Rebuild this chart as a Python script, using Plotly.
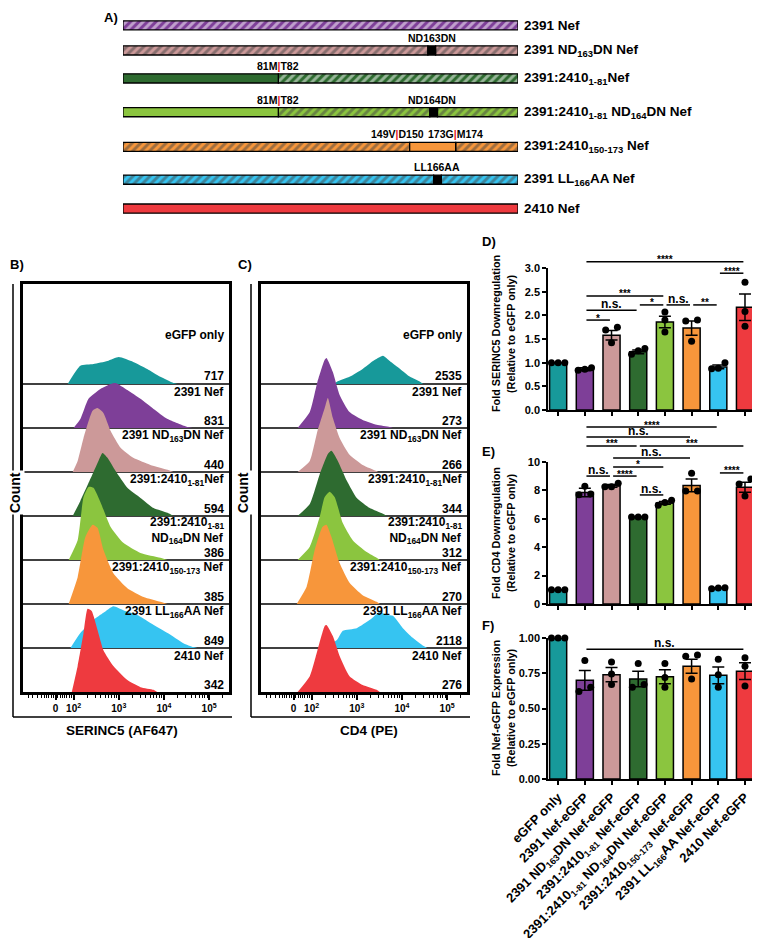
import plotly.graph_objects as go
import numpy as np

W, H = 760, 938
OFF = 8                      # the page body adds an 8 px margin round the figure
FW, FH = W - OFF, H - OFF
FONT = "Liberation Sans, Arial, sans-serif"

def px(x):  # window pixel -> paper x
    return (x - OFF) / FW

def py(y):  # window pixel (from top) -> paper y
    return 1 - (y - OFF) / FH

TEAL, PURPLE, PINK, DKGREEN = "#17999a", "#7e3f98", "#cc9999", "#2e6b30"
LTGREEN, ORANGE, BLUE, RED = "#8bc53f", "#f7963b", "#36c4f1", "#ee3a3f"
colors = [TEAL, PURPLE, PINK, DKGREEN, LTGREEN, ORANGE, BLUE, RED]

#----------------------------------------------------------------------------------------------
# A) construct schematic (residue numbers)
nef_len = 206
a_names = ["2391 Nef", "2391 ND<sub>163</sub>DN Nef", "2391:2410<sub>1-81</sub>Nef",
           "2391:2410<sub>1-81</sub> ND<sub>164</sub>DN Nef", "2391:2410<sub>150-173</sub> Nef",
           "2391 LL<sub>166</sub>AA Nef", "2410 Nef"]
a_colors = [PURPLE, PINK, DKGREEN, LTGREEN, ORANGE, BLUE, RED]
a_segments = [
    [(0, 206, "hatch")],
    [(0, 159, "hatch"), (159, 163, "mut"), (163, 206, "hatch")],
    [(0, 81, "solid"), (81, 206, "hatch")],
    [(0, 81, "solid"), (81, 160, "hatch"), (160, 164, "mut"), (164, 206, "hatch")],
    [(0, 149.5, "hatch"), (149.5, 173.5, "solid"), (173.5, 206, "hatch")],
    [(0, 162, "hatch"), (162, 166, "mut"), (166, 206, "hatch")],
    [(0, 206, "solid")],
]
RB = "<span style='color:#e8141b'>|</span>"
a_sites = [
    [],
    [(161, "ND163DN")],
    [(81, "81M" + RB + "T82")],
    [(81, "81M" + RB + "T82"), (161, "ND164DN")],
    [(149.5, "149V" + RB + "D150"), (173.5, "173G" + RB + "M174")],
    [(164, "LL166AA")],
    [],
]
a_rows = [18, 44, 73, 108, 144, 178, 208]  # layout: row centres in px

#----------------------------------------------------------------------------------------------
# B) / C) histograms: x = log10 fluorescence (display scale), y = count (fraction of a row)
hist_names = ["eGFP only", "2391 Nef", "2391 ND<sub>163</sub>DN Nef", "2391:2410<sub>1-81</sub>Nef",
              "2391:2410<sub>1-81</sub><br>ND<sub>164</sub>DN Nef", "2391:2410<sub>150-173</sub> Nef",
              "2391 LL<sub>166</sub>AA Nef", "2410 Nef"]
ser_counts = [717, 831, 440, 594, 386, 385, 849, 342]
cd4_counts = [2535, 273, 266, 344, 312, 270, 2118, 276]

ser_x = [
    [1.87, 2.15, 2.44, 2.75, 3.00, 3.32, 3.63, 3.92, 4.21, 4.30],
    [2.00, 2.15, 2.33, 2.60, 2.82, 2.93, 3.19, 3.48, 3.77, 4.08, 4.52, 4.63],
    [1.98, 2.09, 2.22, 2.42, 2.53, 2.66, 2.82, 3.04, 3.32, 3.70, 4.08, 4.21],
    [1.98, 2.15, 2.38, 2.55, 2.64, 2.75, 2.93, 3.19, 3.48, 3.77, 4.08, 4.21],
    [1.89, 2.09, 2.22, 2.33, 2.44, 2.60, 2.82, 3.10, 3.48, 3.92, 4.08],
    [1.89, 2.09, 2.26, 2.42, 2.53, 2.66, 2.88, 3.19, 3.55, 3.92, 4.08],
    [1.93, 2.15, 2.44, 2.66, 2.88, 3.10, 3.41, 3.70, 4.08, 4.43, 4.65, 4.74],
    [1.96, 2.09, 2.22, 2.31, 2.40, 2.53, 2.66, 2.88, 3.19, 3.48, 3.77, 3.85],
]
ser_h = [
    [0, 0.41, 0.45, 0.52, 0.61, 0.50, 0.34, 0.16, 0.02, 0],
    [0, 0.20, 0.66, 0.89, 1.00, 1.02, 0.86, 0.66, 0.43, 0.20, 0.02, 0],
    [0, 0.25, 0.77, 1.39, 1.45, 1.34, 0.93, 0.55, 0.32, 0.16, 0.05, 0],
    [0, 0.34, 0.86, 1.25, 1.43, 1.32, 1.02, 0.64, 0.41, 0.18, 0.07, 0],
    [0, 0.45, 1.43, 1.66, 1.64, 1.30, 0.75, 0.39, 0.16, 0.05, 0],
    [0, 0.61, 1.52, 1.80, 1.73, 1.23, 0.70, 0.36, 0.16, 0.05, 0],
    [0, 0.34, 0.64, 0.80, 0.95, 0.86, 0.75, 0.57, 0.34, 0.11, 0.02, 0],
    [0, 0.59, 1.34, 1.89, 1.84, 1.41, 0.95, 0.59, 0.27, 0.11, 0.05, 0],
]
cd4_x = [
    [2.50, 2.56, 2.84, 3.13, 3.36, 3.58, 3.73, 3.96, 4.18, 4.40, 4.47],
    [1.69, 1.96, 2.13, 2.29, 2.33, 2.47, 2.62, 2.84, 3.13, 3.44, 3.73, 3.80],
    [1.69, 1.96, 2.13, 2.29, 2.36, 2.47, 2.62, 2.84, 3.13, 3.44, 3.47],
    [1.69, 1.96, 2.18, 2.36, 2.44, 2.58, 2.78, 3.00, 3.29, 3.58, 3.67],
    [1.69, 1.96, 2.18, 2.29, 2.40, 2.51, 2.69, 2.91, 3.22, 3.44, 3.51],
    [1.67, 1.89, 2.07, 2.24, 2.33, 2.44, 2.62, 2.84, 3.13, 3.44, 3.51],
    [2.20, 2.56, 2.69, 3.00, 3.29, 3.51, 3.67, 3.80, 4.02, 4.24, 4.47, 4.56],
    [1.69, 1.96, 2.13, 2.29, 2.33, 2.47, 2.62, 2.84, 3.13, 3.44, 3.51],
]
cd4_h = [
    [0, 0.05, 0.16, 0.34, 0.52, 0.64, 0.52, 0.34, 0.16, 0.05, 0],
    [0, 0.36, 1.05, 1.55, 1.59, 1.27, 0.75, 0.36, 0.18, 0.07, 0.02, 0],
    [0, 0.25, 0.93, 1.45, 1.68, 1.23, 0.77, 0.39, 0.16, 0.02, 0],
    [0, 0.27, 0.95, 1.41, 1.48, 1.25, 0.80, 0.41, 0.18, 0.05, 0],
    [0, 0.30, 0.98, 1.43, 1.55, 1.43, 0.84, 0.45, 0.18, 0.05, 0],
    [0, 0.39, 1.23, 1.75, 1.80, 1.52, 0.93, 0.48, 0.20, 0.05, 0],
    [0, 0.18, 0.39, 0.45, 0.64, 0.82, 0.75, 0.73, 0.45, 0.23, 0.05, 0],
    [0, 0.36, 0.95, 1.50, 1.52, 1.27, 0.82, 0.36, 0.16, 0.05, 0],
]

#----------------------------------------------------------------------------------------------
# D) E) F) bar charts
groups = ["eGFP only", "2391 Nef-eGFP", "2391 ND<sub>163</sub>DN Nef-eGFP",
          "2391:2410<sub>1-81</sub> Nef-eGFP", "2391:2410<sub>1-81</sub> ND<sub>164</sub>DN Nef-eGFP",
          "2391:2410<sub>150-173</sub> Nef-eGFP", "2391 LL<sub>166</sub>AA Nef-eGFP", "2410 Nef-eGFP"]

ser_mean = [1.0, 0.86, 1.58, 1.23, 1.86, 1.73, 0.91, 2.17]
ser_sem = [0.0, 0.03, 0.10, 0.04, 0.12, 0.15, 0.04, 0.28]
ser_pts = [[1.0, 1.0, 1.0], [0.84, 0.89, 0.86], [1.75, 1.69, 1.42], [1.30, 1.25, 1.18],
           [2.07, 1.90, 1.65], [1.90, 1.88, 1.45], [1.00, 0.88, 0.87], [2.70, 2.08, 1.77]]
ser_sig = [("****", 1, 7, 3.13), ("****", 6, 7, 2.89), ("***", 1, 4, 2.41), ("n.s.", 1, 3, 2.11),
           ("*", 3, 4, 2.22), ("n.s.", 4, 5, 2.22), ("**", 5, 6, 2.22), ("*", 1, 2, 1.90)]

cd4_mean = [1.0, 7.85, 8.32, 6.12, 7.12, 8.35, 1.12, 8.22]
cd4_sem = [0.0, 0.30, 0.10, 0.02, 0.10, 0.45, 0.03, 0.35]
cd4_pts = [[1.0, 1.0, 1.0], [8.30, 7.75, 7.70], [8.50, 8.25, 8.25], [6.12, 6.12, 6.12],
           [7.30, 7.15, 6.95], [9.20, 7.95, 7.95], [1.08, 1.12, 1.15], [8.80, 8.45, 7.60]]
cd4_sig = [("****", 1, 6, 12.46), ("n.s.", 1, 5, 11.76), ("***", 1, 3, 11.13), ("***", 3, 7, 11.13),
           ("n.s.", 2, 5, 10.28), ("*", 2, 4, 9.65), ("n.s.", 1, 2, 9.01), ("****", 2, 3, 9.01),
           ("****", 6, 7, 9.23), ("n.s.", 3, 4, 7.68)]

exp_mean = [1.0, 0.70, 0.74, 0.71, 0.725, 0.80, 0.735, 0.765]
exp_sem = [0.0, 0.07, 0.05, 0.055, 0.05, 0.05, 0.06, 0.06]
exp_pts = [[1.0, 1.0, 1.0], [0.84, 0.65, 0.62], [0.83, 0.745, 0.67], [0.82, 0.67, 0.65],
           [0.82, 0.72, 0.65], [0.88, 0.87, 0.71], [0.85, 0.74, 0.65], [0.86, 0.80, 0.66]]
exp_sig = [("n.s.", 1, 7, 0.92)]

#----------------------------------------------------------------------------------------------
fig = go.Figure()
ann = []
shapes = []

def text(x, y, s, size, xref="paper", yref="paper", **kw):
    d = dict(x=x, y=y, text=s, xref=xref, yref=yref, showarrow=False, font=dict(size=size),
             xanchor="center", yanchor="middle")
    d.update(kw)
    ann.append(d)

# ---- A
kinds = {"hatch": dict(y=[], x=[], base=[], c=[]), "solid": dict(y=[], x=[], base=[], c=[]),
         "mut": dict(y=[], x=[], base=[], c=[])}
for i, segs in enumerate(a_segments):
    for s, e, k in segs:
        kinds[k]["y"].append(a_rows[i])
        kinds[k]["base"].append(s)
        kinds[k]["x"].append(e - s)
        kinds[k]["c"].append("black" if k == "mut" else a_colors[i])
for k, d in kinds.items():
    marker = dict(color=d["c"], line=dict(color="black", width=1.3))
    if k == "hatch":
        marker["pattern"] = dict(shape="/", fgcolor="white", size=6, solidity=0.5, fillmode="overlay")
    fig.add_trace(go.Bar(orientation="h", y=d["y"], x=d["x"], base=d["base"], width=9.5,
                         marker=marker, xaxis="x", yaxis="y", hoverinfo="skip"))
for i, name in enumerate(a_names):
    text(nef_len, a_rows[i], name, 13.5, xref="x", yref="y", xanchor="left", xshift=4)
    for pos, lab in a_sites[i]:
        shift = -12 if lab.startswith("149V") else 0
        text(pos, a_rows[i] - 13, lab, 10.5, xref="x", yref="y", xshift=shift)
text(px(111), py(8), "A)", 13, yanchor="top")

# ---- B, C histograms
minor_vals = [1.0, 1.1, 1.2, 1.3, 1.35, 1.4, 1.45, 1.5, 1.55, 1.65, 1.7, 1.75, 1.8, 1.85, 1.9, 1.95]
minor_vals += [d + np.log10(k) for d in (2, 3, 4) for k in range(2, 10)] + [5 + np.log10(2)]

for (xs_all, hs_all, counts, xa, ya) in [(ser_x, ser_h, ser_counts, "x2", "y2"),
                                         (cd4_x, cd4_h, cd4_counts, "x3", "y3")]:
    for r in range(8):
        b = 7 - r
        if r < 7:
            fig.add_trace(go.Scatter(x=[0.8, 5.6], y=[b, b], mode="lines",
                                     line=dict(color="black", width=1.5), xaxis=xa, yaxis=ya,
                                     hoverinfo="skip"))
        fig.add_trace(go.Scatter(x=xs_all[r], y=[b + h for h in hs_all[r]], mode="lines",
                                 fill="toself", fillcolor=colors[r], line=dict(width=0, shape="spline", smoothing=0.5),
                                 xaxis=xa, yaxis=ya, hoverinfo="skip"))
        if r == 0:
            ny, cy = b + 1.11, b + 0.18
        elif r == 4:
            ny, cy = b + 0.68, b + 0.16
        else:
            ny, cy = b + 0.82, b + 0.16
        text(1, ny, hist_names[r], 12, xref=xa + " domain", yref=ya, xanchor="right", xshift=-3)
        text(1, cy, str(counts[r]), 12, xref=xa + " domain", yref=ya, xanchor="right", xshift=-3)

for (lx, rx, cx, title, tx, lab, labx) in [(13, 232, 15, "SERINC5 (AF647)", 122, "B)", 8),
                                           (251, 470, 243, "CD4 (PE)", 369, "C)", 236)]:
    shapes.append(dict(type="line", xref="paper", yref="paper", x0=px(lx), x1=px(lx),
                       y0=py(284), y1=py(717), line=dict(color="black", width=1.5)))
    shapes.append(dict(type="line", xref="paper", yref="paper", x0=px(lx), x1=px(rx),
                       y0=py(717), y1=py(717), line=dict(color="black", width=1.5)))
    text(px(cx), py(493), "Count", 14, textangle=-90, bgcolor="white")
    text(px(tx), py(730), title, 13.5)
    text(px(labx), py(264), lab, 13, xanchor="left")

# ---- D, E, F bar charts
def spread(vals, thresh):
    order = sorted(range(len(vals)), key=lambda k: vals[k])
    clusters = [[order[0]]]
    for k in order[1:]:
        if vals[k] - vals[clusters[-1][-1]] < thresh:
            clusters[-1].append(k)
        else:
            clusters.append([k])
    offs = [0.0] * len(vals)
    pats = {1: [0.0], 2: [-0.22, 0.22], 3: [-0.25, 0.0, 0.25]}
    for cl in clusters:
        for k, o in zip(cl, pats[len(cl)]):
            offs[k] = o
    return offs

bar_panels = [
    (ser_mean, ser_sem, ser_pts, ser_sig, 3.0, "x4", "y4"),
    (cd4_mean, cd4_sem, cd4_pts, cd4_sig, 10.0, "x5", "y5"),
    (exp_mean, exp_sem, exp_pts, exp_sig, 1.0, "x6", "y6"),
]
for mean, sem, pts, sig, ymax, xa, ya in bar_panels:
    fig.add_trace(go.Bar(x=list(range(8)), y=mean, width=0.64,
                         marker=dict(color=colors, line=dict(color="black", width=1.5)),
                         error_y=dict(type="data", array=sem, color="black", thickness=1.5, width=6),
                         xaxis=xa, yaxis=ya, hoverinfo="skip"))
    dx, dy = [], []
    for g, vals in enumerate(pts):
        for v, o in zip(vals, spread(vals, 7 * ymax / 142)):
            dx.append(g + o)
            dy.append(v)
    fig.add_trace(go.Scatter(x=dx, y=dy, mode="markers", marker=dict(color="black", size=7),
                             cliponaxis=False, xaxis=xa, yaxis=ya, hoverinfo="skip"))
    for lab, i, j, yv in sig:
        shapes.append(dict(type="line", xref=xa, yref=ya + " domain", x0=i + 0.06, x1=j - 0.06,
                           y0=yv / ymax, y1=yv / ymax, line=dict(color="black", width=1.5)))
        star = lab.startswith("*")
        text((i + j) / 2, yv / ymax, lab, 10 if star else 12, xref=xa, yref=ya + " domain",
             yshift=2 if star else 6)

titles = [("Fold SERINC5 Downregulation", 334, "D)", 242),
          ("Fold CD4 Downregulation", 533, "E)", 451),
          ("Fold Nef-eGFP Expression", 708, "F)", 625)]
for t, cy, lab, ly in titles:
    text(px(496), py(cy), t, 10.8, textangle=-90)
    text(px(511), py(cy), "(Relative to eGFP only)", 10.8, textangle=-90)
    text(px(480), py(ly), lab, 13, xanchor="left")

#----------------------------------------------------------------------------------------------
hidden = dict(visible=False, automargin=False)
hist_x = dict(range=[0.88, 5.44], showline=True, linewidth=3, linecolor="black", mirror=True,
              ticks="outside", tickvals=[1.6, 2, 3, 4, 5],
              ticktext=["0", "10<sup>2</sup>", "10<sup>3</sup>", "10<sup>4</sup>", "10<sup>5</sup>"],
              ticklen=5, tickwidth=1.5, tickcolor="black", tickfont=dict(size=10),
              minor=dict(tickmode="array", tickvals=minor_vals, ticks="outside", ticklen=3,
                         tickwidth=1, tickcolor="black"),
              showgrid=False, zeroline=False, automargin=False)
hist_y = dict(range=[0, 9.27], showline=True, linewidth=3, linecolor="black", mirror=True,
              ticks="", showticklabels=False, showgrid=False, zeroline=False,
              domain=[py(692), py(284)], automargin=False)
bar_x = dict(range=[-0.38, 7.45], showline=True, linewidth=1.5, linecolor="black", ticks="outside",
             tickvals=list(range(8)), ticklen=4, tickwidth=1.5, tickcolor="black",
             showticklabels=False, showgrid=False, zeroline=False, domain=[px(548), px(757)],
             automargin=False)
bar_y = dict(showline=True, linewidth=1.5, linecolor="black", ticks="outside", ticklen=4,
             tickwidth=1.5, tickcolor="black", tickfont=dict(size=11), showgrid=False, zeroline=False,
             automargin=False)

fig.update_layout(
    width=FW, height=FH, margin=dict(l=0, r=0, t=0, b=0, autoexpand=False),
    paper_bgcolor="white", plot_bgcolor="rgba(0,0,0,0)",
    font=dict(family=FONT, color="black", weight="bold"),
    showlegend=False, barmode="overlay",
    xaxis=dict(hidden, range=[0, nef_len], domain=[px(123), px(518)]),
    yaxis=dict(hidden, range=[225, 0], domain=[py(225), py(8)]),
    xaxis2=dict(hist_x, domain=[px(23), px(229)], anchor="y2"),
    yaxis2=dict(hist_y, anchor="x2"),
    xaxis3=dict(hist_x, domain=[px(261), px(467)], anchor="y3"),
    yaxis3=dict(hist_y, anchor="x3"),
    xaxis4=dict(bar_x, anchor="y4"),
    yaxis4=dict(bar_y, range=[0, 3.0], dtick=0.5, tickformat=".1f", domain=[py(410), py(268)], anchor="x4"),
    xaxis5=dict(bar_x, anchor="y5"),
    yaxis5=dict(bar_y, range=[0, 10], dtick=2, domain=[py(604), py(462)], anchor="x5"),
    xaxis6=dict(bar_x, anchor="y6", showticklabels=True, ticktext=groups, tickangle=-45,
                tickfont=dict(size=13)),
    yaxis6=dict(bar_y, range=[0, 1.0], dtick=0.25, tickformat=".2f", domain=[py(779), py(638)], anchor="x6"),
    annotations=ann, shapes=shapes,
)

fig.write_html("out.html")
